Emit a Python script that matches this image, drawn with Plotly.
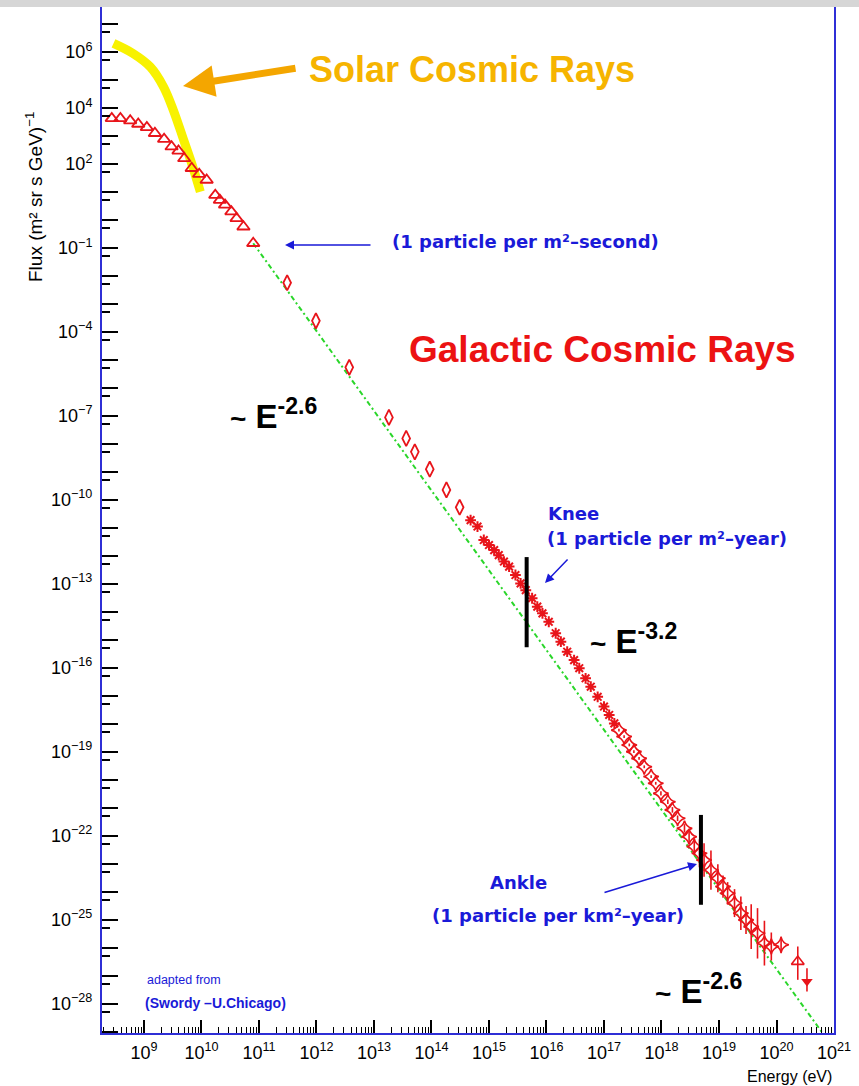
import numpy as np
import plotly.graph_objects as go

# ---------------- data: log10(E / eV) and log10(flux / (m^2 sr s GeV)^-1) ----------------
# low-energy balloon / satellite points (open triangles)
tri_logE = [8.44, 8.59, 8.76, 8.90, 9.05, 9.19, 9.35, 9.48, 9.60, 9.70,
            9.83, 9.96, 10.09, 10.24, 10.32, 10.41, 10.52, 10.61, 10.73, 10.90]
tri_logF = [3.62, 3.62, 3.54, 3.42, 3.30, 3.09, 2.88, 2.61, 2.46, 2.19,
            1.84, 1.63, 1.42, 0.88, 0.70, 0.53, 0.29, 0.05, -0.25, -0.84]

# direct-measurement points (open diamonds)
dia_logE = [11.49, 11.99, 12.57, 13.26, 13.56, 13.71, 13.97, 14.26, 14.49]
dia_logF = [-2.25, -3.61, -5.27, -7.06, -7.81, -8.29, -8.91, -9.65, -10.27]

# air-shower points around the knee (asterisks)
knee_logE = [14.68, 14.80, 14.91, 15.00, 15.09, 15.17, 15.26, 15.35, 15.46, 15.55,
             15.64, 15.75, 15.84, 15.93, 16.04, 16.16, 16.25, 16.36, 16.48, 16.57,
             16.68, 16.77, 16.89, 17.00, 17.09, 17.18]
knee_logF = [-10.73, -10.96, -11.44, -11.62, -11.80, -11.98, -12.21, -12.39, -12.69, -12.99,
             -13.23, -13.52, -13.82, -14.06, -14.36, -14.77, -15.07, -15.43, -15.73, -16.02,
             -16.38, -16.68, -17.04, -17.39, -17.69, -17.99]

# ultra-high-energy points around the ankle (open stars) with error half-widths in decades
ank_logE = [17.26, 17.35, 17.44, 17.52, 17.61, 17.70, 17.82, 17.90, 17.99, 18.11,
            18.19, 18.28, 18.40, 18.48, 18.57, 18.66, 18.74, 18.86, 18.98, 19.07,
            19.15, 19.27, 19.38, 19.47, 19.56, 19.67, 19.79, 19.91, 20.08]
ank_logF = [-18.23, -18.46, -18.76, -19.00, -19.24, -19.54, -19.89, -20.13, -20.49, -20.79,
            -21.08, -21.38, -21.74, -22.04, -22.39, -22.63, -22.87, -23.23, -23.52, -23.82,
            -24.06, -24.41, -24.77, -25.01, -25.25, -25.49, -25.84, -25.96, -25.90]
ank_err = [0.05, 0.05, 0.05, 0.05, 0.05, 0.05, 0.05, 0.05, 0.08, 0.08,
           0.1, 0.1, 0.15, 0.2, 0.3, 0.5, 0.6, 0.7, 0.5, 0.4,
           0.4, 0.5, 0.6, 0.5, 0.8, 0.9, 0.8, 0.5, 0.3]

# highest-energy points: open triangle and an upper limit (filled down-triangle)
top_logE = [20.37]
top_logF = [-26.50]
top_err_up = [0.54]
top_err_dn = [0.65]
lim_logE = [20.53]
lim_logF = [-27.21]
lim_err_up = [0.47]
lim_err_dn = [0.36]

# solar cosmic-ray spectrum
sol_logE = [8.47, 8.81, 9.11, 9.34, 9.51, 9.69, 9.83, 9.98]
sol_logF = [6.30, 5.94, 5.46, 4.75, 3.92, 2.85, 2.01, 1.00]

# reference power law (dash-dot)
fit_logE = [10.90, 20.80]
fit_logF = [-0.84, -29.05]

# knee and ankle markers: energy and flux span
knee_bar_logE, knee_bar_logF = 15.655, [-12.05, -15.27]
ankle_bar_logE, ankle_bar_logF = 18.686, [-21.26, -24.47]

# axis ticks
x_decades = list(range(9, 22))
y_decades = list(range(-29, 8))
y_labelled = [6, 4, 2, -1, -4, -7, -10, -13, -16, -19, -22, -25, -28]


def p10(v):
    return [10.0 ** t for t in v]


RED = "#e8141a"
BLUE = "#1a1ad8"
AXIS_BLUE = "#2f2fd6"

fig = go.Figure()

# solar spectrum
fig.add_trace(go.Scatter(x=p10(sol_logE), y=p10(sol_logF), mode="lines",
                         line=dict(color="#f8f200", width=9, shape="spline"),
                         hoverinfo="skip"))

# power-law line
fig.add_trace(go.Scatter(x=p10(fit_logE), y=p10(fit_logF), mode="lines",
                         line=dict(color="#2ad62a", width=2, dash="5px,3px,2px,3px"),
                         hoverinfo="skip"))

fig.add_trace(go.Scatter(x=p10(tri_logE), y=p10(tri_logF), mode="markers",
                         marker=dict(symbol="triangle-up-open", size=11, color=RED,
                                     line=dict(width=1.8, color=RED))))

fig.add_trace(go.Scatter(x=p10(dia_logE), y=p10(dia_logF), mode="markers",
                         marker=dict(symbol="diamond-tall-open", size=11, color=RED,
                                     line=dict(width=1.8, color=RED))))

fig.add_trace(go.Scatter(x=p10(knee_logE), y=p10(knee_logF), mode="markers",
                         marker=dict(symbol="asterisk-open", size=9, color=RED,
                                     line=dict(width=2, color=RED))))


def err_arrays(logF, up, dn):
    F = np.array(p10(logF))
    up = np.array(up)
    dn = np.array(dn)
    return F * (10 ** up - 1), F * (1 - 10 ** (-dn))


ank_up, ank_dn = err_arrays(ank_logF, ank_err, ank_err)
fig.add_trace(go.Scatter(x=p10(ank_logE), y=p10(ank_logF), mode="markers",
                         marker=dict(symbol="star-diamond-open", size=11, color=RED,
                                     line=dict(width=1.6, color=RED)),
                         error_y=dict(type="data", symmetric=False, array=ank_up,
                                      arrayminus=ank_dn, color=RED, thickness=1.6, width=0)))

t_up, t_dn = err_arrays(top_logF, top_err_up, top_err_dn)
fig.add_trace(go.Scatter(x=p10(top_logE), y=p10(top_logF), mode="markers",
                         marker=dict(symbol="triangle-up-open", size=11, color=RED,
                                     line=dict(width=1.6, color=RED)),
                         error_y=dict(type="data", symmetric=False, array=t_up,
                                      arrayminus=t_dn, color=RED, thickness=1.6, width=0)))

l_up, l_dn = err_arrays(lim_logF, lim_err_up, lim_err_dn)
fig.add_trace(go.Scatter(x=p10(lim_logE), y=p10(lim_logF), mode="markers",
                         marker=dict(symbol="triangle-down", size=10, color=RED),
                         error_y=dict(type="data", symmetric=False, array=l_up,
                                      arrayminus=l_dn, color=RED, thickness=1.6, width=0)))

# knee / ankle bars
for bx, bf in [(knee_bar_logE, knee_bar_logF), (ankle_bar_logE, ankle_bar_logF)]:
    fig.add_trace(go.Scatter(x=p10([bx, bx]), y=p10(bf), mode="lines",
                             line=dict(color="black", width=4), hoverinfo="skip"))

# ---------------- layout ----------------
W, H = 859, 1086
L, R, T, B = 102, 834, 7, 1033


def px(x):
    return (x - L) / (R - L)


def py(y):
    return (B - y) / (B - T)


x_ticktext = [f"10<sup>{k}</sup>" for k in x_decades]
y_ticktext = [(f"10<sup>{k}</sup>" if k in y_labelled else "").replace("-", "\u2212")
              for k in y_decades]

x_minor = [m * 10.0 ** k for k in range(8, 21) for m in range(2, 10)]
y_minor = [5 * 10.0 ** k for k in range(-30, 8)]

tick_font = dict(family="Liberation Sans, Arial, sans-serif", size=18, color="black")

fig.update_layout(
    width=W, height=H,
    margin=dict(l=L, r=W - R, t=T, b=H - B),
    paper_bgcolor="white", plot_bgcolor="white",
    showlegend=False,
    xaxis=dict(type="log", range=[8.27, 21.0], showgrid=False, zeroline=False,
               showline=True, linecolor=AXIS_BLUE, linewidth=2, mirror=False,
               tickmode="array", tickvals=p10(x_decades), ticktext=x_ticktext,
               ticks="inside", ticklen=13, tickwidth=1.5, tickcolor="black",
               tickfont=tick_font, ticklabelstandoff=2,
               minor=dict(tickmode="array", tickvals=x_minor, ticks="inside",
                          ticklen=6, tickwidth=1.2, tickcolor="black", showgrid=False)),
    yaxis=dict(type="log", range=[-29.05, 7.6], showgrid=False, zeroline=False,
               showline=True, linecolor=AXIS_BLUE, linewidth=2, mirror=True,
               tickmode="array", tickvals=p10(y_decades), ticktext=y_ticktext,
               ticks="inside", ticklen=16, tickwidth=2, tickcolor="black",
               tickfont=tick_font, ticklabelstandoff=4,
               minor=dict(tickmode="array", tickvals=y_minor, ticks="inside",
                          ticklen=8, tickwidth=2, tickcolor="black", showgrid=False)),
)

ann = []


def text(x, y, s, size, color, bold=False, family="Liberation Sans, Arial, sans-serif",
         xanchor="left", yanchor="middle", angle=0):
    if bold:
        s = f"<b>{s}</b>"
    ann.append(dict(x=px(x), y=py(y), xref="paper", yref="paper", text=s, showarrow=False,
                    xanchor=xanchor, yanchor=yanchor, textangle=angle,
                    font=dict(size=size, color=color, family=family)))


def arrow(x0, y0, x1, y1, color, width, head, size):
    ann.append(dict(x=px(x1), y=py(y1), xref="paper", yref="paper",
                    ax=x0 - x1, ay=y0 - y1, axref="pixel", ayref="pixel",
                    text="", showarrow=True, arrowcolor=color, arrowwidth=width,
                    arrowhead=head, arrowsize=size, standoff=0, startstandoff=0))


ROUND = "DejaVu Sans, Verdana, sans-serif"

text(472, 70, "Solar Cosmic Rays", 36, "#f6b400", bold=True, xanchor="center")
arrow(297, 68, 183, 86, "#f4a600", 7, 2, 0.9)

text(602, 350, "Galactic Cosmic Rays", 37, "#ec1212", bold=True, xanchor="center")

text(390, 242, "(1 particle per m\u00b2\u2013second)", 18, BLUE, bold=True, family=ROUND)
arrow(372, 245, 285, 245, BLUE, 1.5, 2, 1.2)

text(546, 513, "Knee", 18, BLUE, bold=True, family=ROUND)
text(545, 538, "(1 particle per m\u00b2\u2013year)", 18, BLUE, bold=True, family=ROUND)
arrow(569, 558, 545, 583, BLUE, 1.5, 2, 1.2)

text(488, 882, "Ankle", 18, BLUE, bold=True, family=ROUND)
text(430, 915, "(1 particle per km\u00b2\u2013year)", 18, BLUE, bold=True, family=ROUND)
arrow(603, 893, 697, 864, BLUE, 1.5, 2, 1.2)

TILDE = '<span style="font-size:28px">~</span> '
text(228, 414, TILDE + "E<sup>-2.6</sup>", 33, "black", bold=True)
text(588, 639, TILDE + "E<sup>-3.2</sup>", 33, "black", bold=True)
text(653, 989, TILDE + "E<sup>-2.6</sup>", 33, "black", bold=True)

text(145, 980, "adapted from", 12.5, BLUE)
text(143, 1003, "(Swordy \u2013U.Chicago)", 14, BLUE, bold=True)

text(34, 197, "Flux (m\u00b2 sr s GeV)<sup>\u22121</sup>", 19, "black",
     xanchor="center", angle=-90)
text(834, 1076, "Energy (eV)", 16, "black", xanchor="right")

fig.update_layout(annotations=ann)

# grey strip along the top edge
fig.add_shape(type="rect", xref="paper", yref="paper", x0=-0.2, x1=1.1,
              y0=1.0, y1=1.0 + (T + 1) / (B - T), fillcolor="#d6d6d6",
              line=dict(width=0), layer="above")

fig.write_html("out.html")
